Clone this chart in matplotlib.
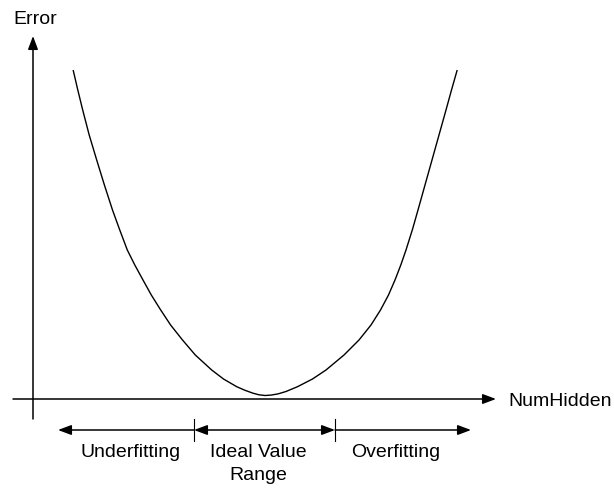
import matplotlib
matplotlib.use("Agg")
import matplotlib.pyplot as plt

plt.rcParams['font.family'] = ['Liberation Sans', 'DejaVu Sans']

# curve (x = NumHidden, y = Error, origin at the axes crossing)
num_hidden = [40.3, 44.8, 49.7, 56.2, 63.7, 71.4, 79.5, 86.5, 94.3, 101.8,
              110.0, 118.3, 127.7, 137.6, 149.5, 162.3, 178.7, 190.5, 203.7,
              212.0, 220.0, 226.0, 232.0,
              238.0, 245.0, 253.0, 264.5, 279.5, 293.0, 311.0, 326.0, 338.0,
              347.5, 355.5, 362.0, 367.8, 373.0, 379.5, 385.0, 392.0, 399.0,
              406.0, 413.0, 418.5, 424.0]
error = [328.3, 309.0, 289.0, 264.0, 239.0, 214.0, 189.0, 169.7, 149.0, 134.0,
         119.0, 104.0, 89.0, 74.0, 59.0, 44.0, 29.0, 20.0, 12.3,
         8.7, 5.8, 4.2, 3.5,
         3.9, 5.1, 7.5, 12.3, 20.0, 29.0, 44.0, 59.0, 74.0,
         89.0, 104.0, 119.0, 134.0, 149.0, 169.7, 189.0, 214.0, 239.0,
         264.0, 289.0, 309.0, 328.3]

regions = ["Underfitting", "Ideal Value\nRange", "Overfitting"]
region_edges = [25, 161, 302, 438]

fig = plt.figure(figsize=(6.14, 4.88), dpi=100)
ax = fig.add_axes([0, 0, 1, 1])
ax.set_xlim(-33, 581)
ax.set_ylim(-89, 399)
ax.axis('off')

head = '-|>,head_length=0.4,head_width=0.15'
both = '<|-|>,head_length=0.4,head_width=0.15'

def arrow(x0, y0, x1, y1, style):
    ax.annotate('', xy=(x1, y1), xytext=(x0, y0),
                arrowprops=dict(arrowstyle=style, color='black', lw=1.1,
                                mutation_scale=20, shrinkA=0, shrinkB=0))

# axes
arrow(0, -20, 0, 363, head)
arrow(-20, 0, 463, 0, head)
ax.text(2, 380, "Error", fontsize=14, ha='center', va='center')
ax.text(475, -2, "NumHidden", fontsize=14, ha='left', va='center')

# curve
ax.plot(num_hidden, error, color='black', lw=1.0)

# region arrows below the axis
y_arr = -31
arrow(region_edges[1], y_arr, region_edges[0], y_arr, head)
arrow(region_edges[1], y_arr, region_edges[2], y_arr, both)
arrow(region_edges[2], y_arr, region_edges[3], y_arr, head)
for e in region_edges[1:3]:
    ax.plot([e, e], [-20, -42], color='black', lw=0.8)

label_x = [98, 225, 363]
for lx, lab in zip(label_x, regions):
    ax.text(lx, -45, lab, fontsize=14, ha='center', va='top', linespacing=1.45)

fig.savefig("out.png", dpi=100)
